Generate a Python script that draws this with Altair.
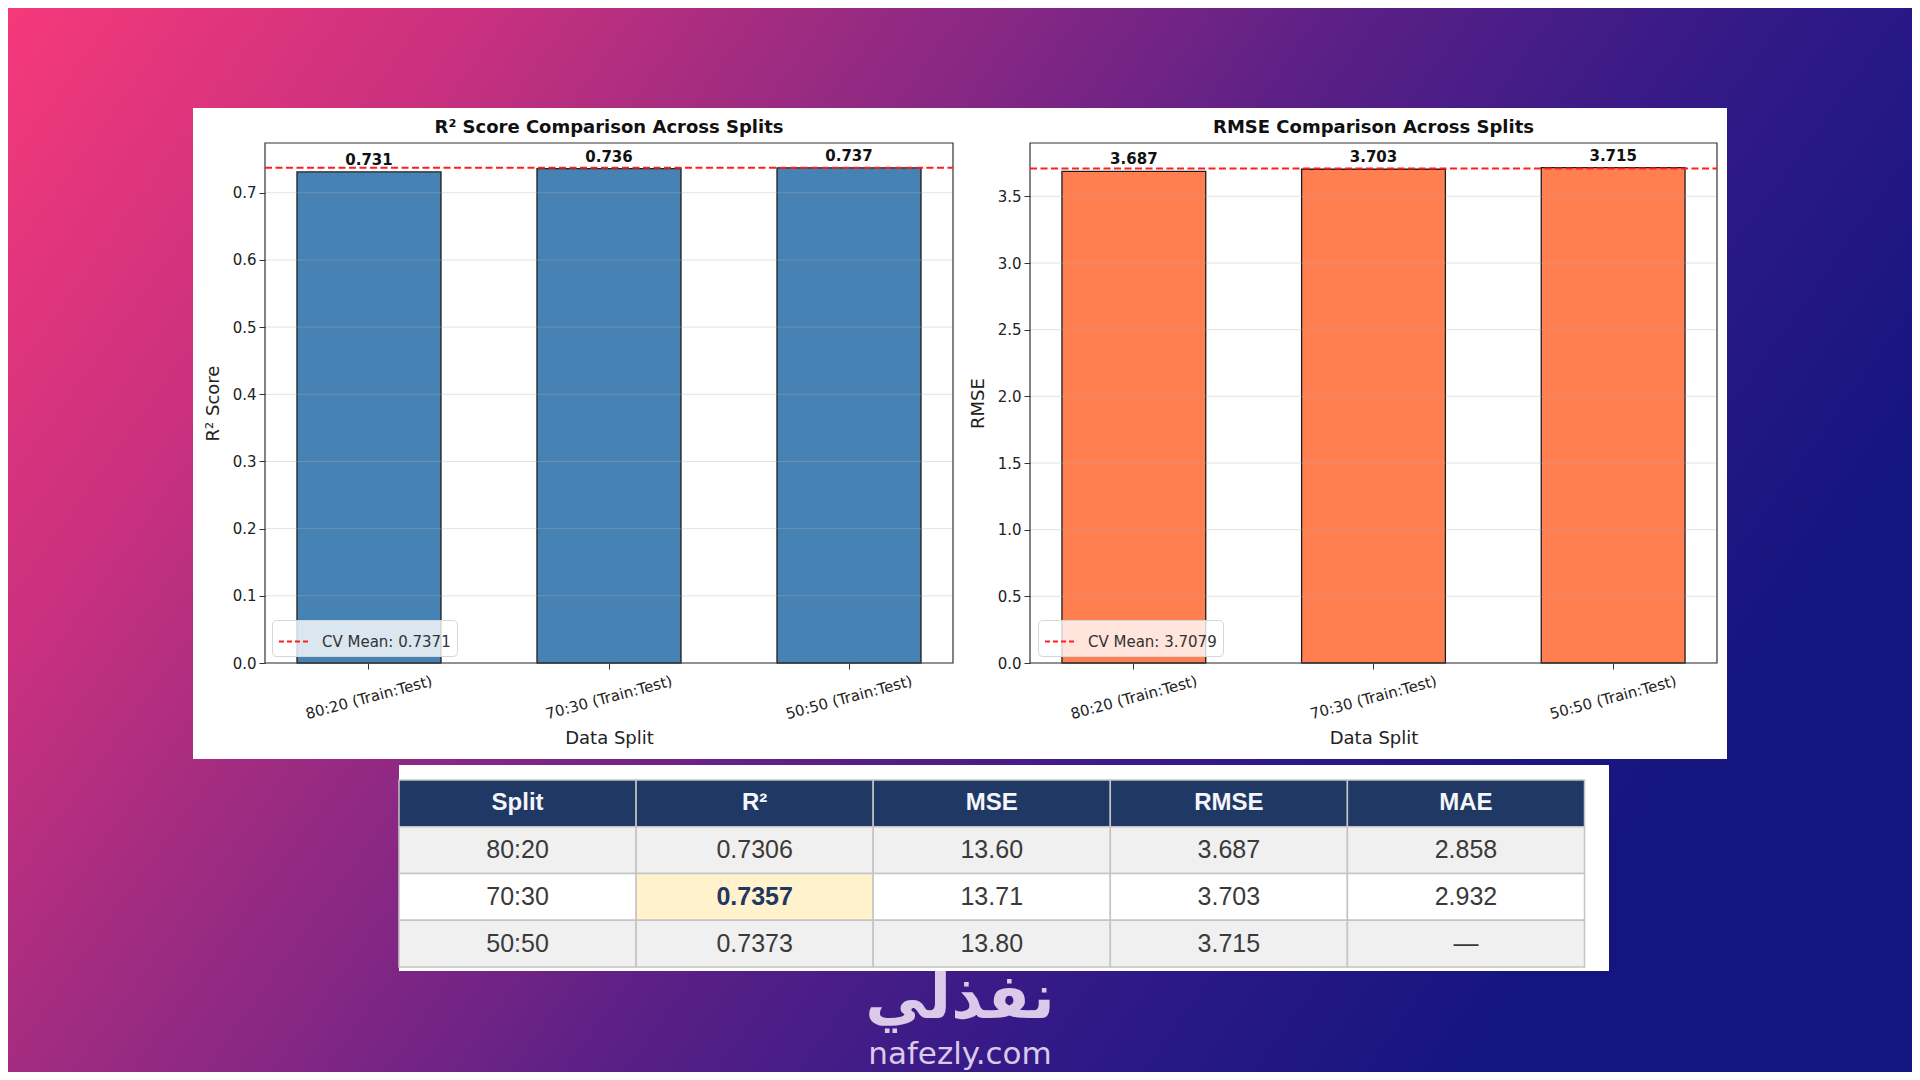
import altair as alt
import pandas as pd

# ---------------- data ----------------
splits = ["80:20 (Train:Test)", "70:30 (Train:Test)", "50:50 (Train:Test)"]
r2_scores = [0.731, 0.736, 0.737]
rmse_scores = [3.687, 3.703, 3.715]
r2_cv_mean = 0.7371
rmse_cv_mean = 3.7079
r2_cv_label = "CV Mean: 0.7371"
rmse_cv_label = "CV Mean: 3.7079"
r2_ticks = [0.0, 0.1, 0.2, 0.3, 0.4, 0.5, 0.6, 0.7]
rmse_ticks = [0.0, 0.5, 1.0, 1.5, 2.0, 2.5, 3.0, 3.5]
r2_axis_max = 0.774
rmse_axis_max = 3.90

r2_title = "R² Score Comparison Across Splits"
rmse_title = "RMSE Comparison Across Splits"
r2_ytitle = "R² Score"
rmse_ytitle = "RMSE"
x_title = "Data Split"

table_columns = ["Split", "R²", "MSE", "RMSE", "MAE"]
table_split = ["80:20", "70:30", "50:50"]
table_r2 = ["0.7306", "0.7357", "0.7373"]
table_mse = ["13.60", "13.71", "13.80"]
table_rmse = ["3.687", "3.703", "3.715"]
table_mae = ["2.858", "2.932", "—"]
highlight_row = "70:30"
highlight_col = "R²"

brand_ar = "نفذلي"
brand_url = "nafezly.com"

# ---------------- layout (page pixels) ----------------
OFF = 8
W, H = 1904, 1064


def px(v):
    return v - OFF


PANEL = (193, 108, 1727, 759)
PLOT_TOP, PLOT_BOTTOM = 143, 663
LEFT_PLOT = (265, 953)
RIGHT_PLOT = (1030, 1717)
TITLE_Y = 128
TABLE_BOX = (399, 765, 1609, 971)
TABLE_X = (399, 1584.5)
TABLE_Y = (780, 967)

one = pd.DataFrame({"a": [0]})
CHART_FONT = "DejaVu Sans"


def box(x0, y0, x1, y1, **kw):
    return alt.Chart(one).mark_rect(**kw).encode(
        x=alt.value(px(x0)), x2=alt.value(px(x1)),
        y=alt.value(px(y0)), y2=alt.value(px(y1)))


def bar_panel(values, cv_mean, cv_label, ticks, ymax, color, ytitle, xr, legend_xy):
    x0, x1 = xr
    xs = alt.Scale(domain=splits, range=[px(x0), px(x1)],
                   paddingInner=0.4, paddingOuter=0.1333)
    ys = alt.Scale(domain=[0, ymax], range=[px(PLOT_BOTTOM), px(PLOT_TOP)],
                   nice=False, zero=True)
    x_axis = alt.Axis(orient="bottom", offset=px(PLOT_BOTTOM) - H, title=x_title,
                      titleFont=CHART_FONT, titleFontSize=18, titleFontWeight="normal",
                      titleColor="#222222", titlePadding=8,
                      labelAngle=-15, labelAlign="center", labelBaseline="middle",
                      labelPadding=28, labelFont=CHART_FONT, labelFontSize=15,
                      labelColor="#222222", labelOverlap=False,
                      tickSize=6, tickColor="#333333", tickWidth=1,
                      domain=False, grid=False, bandPosition=0.5, zindex=5)
    y_axis = alt.Axis(orient="left", offset=-px(x0), title=ytitle, values=ticks,
                      format=".1f", titleFont=CHART_FONT, titleFontSize=18,
                      titleFontWeight="normal", titleColor="#222222", titlePadding=10,
                      labelFont=CHART_FONT, labelFontSize=15, labelColor="#222222",
                      labelPadding=3, labelOverlap=False,
                      tickSize=6, tickColor="#333333", tickWidth=1,
                      domain=False, grid=False, zindex=5)
    bars_df = pd.DataFrame({"split": splits, "value": values})
    bars = alt.Chart(bars_df).mark_bar(fill=color, stroke="#1e1e1e", strokeWidth=1.3).encode(
        x=alt.X("split:N", scale=xs, axis=x_axis, sort=splits),
        y=alt.Y("value:Q", scale=ys, axis=y_axis),
    )
    grid = alt.Chart(pd.DataFrame({"value": ticks})).mark_rule(
        color="#b0b0b0", strokeWidth=1, opacity=0.35).encode(
        y=alt.Y("value:Q"), x=alt.value(px(x0)), x2=alt.value(px(x1)))
    frame = box(x0, PLOT_TOP, x1, PLOT_BOTTOM, fillOpacity=0, stroke="#333333", strokeWidth=1.2)
    cv = alt.Chart(pd.DataFrame({"value": [cv_mean], "label": [cv_label]})).mark_rule(
        strokeDash=[7, 3.5], strokeWidth=2).encode(
        y=alt.Y("value:Q"), x=alt.value(px(x0)), x2=alt.value(px(x1)),
        color=alt.Color("label:N", scale=alt.Scale(domain=[cv_label], range=["#ff1f1f"]),
                        legend=alt.Legend(orient="none", legendX=px(legend_xy[0]),
                                          legendY=px(legend_xy[1]), title=None,
                                          symbolType="stroke", symbolDash=[5, 3],
                                          symbolStrokeWidth=2, symbolSize=841,
                                          labelFont=CHART_FONT, labelFontSize=15,
                                          labelColor="#333333", labelOffset=13,
                                          fillColor="rgba(255,255,255,0.8)",
                                          strokeColor="#d6d6d6", cornerRadius=4,
                                          padding=6, zindex=6)))
    labels = alt.Chart(bars_df).mark_text(font=CHART_FONT, fontWeight="bold", fontSize=15,
                                          baseline="bottom", dy=-4, color="#111111").encode(
        x=alt.X("split:N", sort=splits), y=alt.Y("value:Q"),
        text=alt.Text("value:Q", format=".3f"))
    return alt.layer(bars, grid, frame, cv, labels)


def label_text(text, x, y, **kw):
    return alt.Chart(pd.DataFrame({"t": [text]})).mark_text(**kw).encode(
        text="t:N", x=alt.value(px(x)), y=alt.value(px(y)))


# ---------------- background ----------------
bg = alt.Chart(one).mark_rect(
    fill=alt.Gradient(
        gradient="linear", x1=0, y1=0, x2=1, y2=0.4,
        stops=[alt.GradientStop(color="#f5397a", offset=0),
               alt.GradientStop(color="#c8307f", offset=0.22),
               alt.GradientStop(color="#a22c80", offset=0.35),
               alt.GradientStop(color="#862784", offset=0.46),
               alt.GradientStop(color="#561f86", offset=0.63),
               alt.GradientStop(color="#2e1987", offset=0.82),
               alt.GradientStop(color="#15157f", offset=1)])).encode(
    x=alt.value(0), x2=alt.value(W), y=alt.value(0), y2=alt.value(H))

panel = box(*PANEL, fill="white")

left = bar_panel(r2_scores, r2_cv_mean, r2_cv_label, r2_ticks, r2_axis_max, "#4682b4",
                 r2_ytitle, LEFT_PLOT, (272, 620))
right = bar_panel(rmse_scores, rmse_cv_mean, rmse_cv_label, rmse_ticks, rmse_axis_max, "#ff7f50",
                  rmse_ytitle, RIGHT_PLOT, (1038, 620))

left_title = label_text(r2_title, sum(LEFT_PLOT) / 2, TITLE_Y, font=CHART_FONT, fontSize=18,
                        fontWeight="bold", color="#111111", baseline="middle", align="center")
right_title = label_text(rmse_title, sum(RIGHT_PLOT) / 2, TITLE_Y, font=CHART_FONT, fontSize=18,
                         fontWeight="bold", color="#111111", baseline="middle", align="center")

# ---------------- table ----------------
rows_order = ["header"] + table_split
cells = [{"row": "header", "col": c, "text": c} for c in table_columns]
for i, s in enumerate(table_split):
    for c, vals in zip(table_columns, [table_split, table_r2, table_mse, table_rmse, table_mae]):
        cells.append({"row": s, "col": c, "text": vals[i]})
tdf = pd.DataFrame(cells)

txs = alt.Scale(domain=table_columns, range=[px(TABLE_X[0]), px(TABLE_X[1])],
                paddingInner=0, paddingOuter=0)
tys = alt.Scale(domain=rows_order, range=[px(TABLE_Y[0]), px(TABLE_Y[1])],
                paddingInner=0, paddingOuter=0)

fill_expr = (
    f"datum.row === 'header' ? '#1f3864' : "
    f"(datum.row === '{highlight_row}' ? (datum.col === '{highlight_col}' ? '#fff2cc' : '#ffffff') : '#f0f0f0')"
)
hl_expr = f"datum.row === '{highlight_row}' && datum.col === '{highlight_col}'"

table_box = box(*TABLE_BOX, fill="white")
cell_rects = alt.Chart(tdf).transform_calculate(fill=fill_expr).mark_rect(
    stroke="#c4c4c4", strokeWidth=1.5).encode(
    x=alt.X("col:N", scale=txs, axis=None, sort=table_columns),
    y=alt.Y("row:N", scale=tys, axis=None, sort=rows_order),
    fill=alt.Fill("fill:N", scale=None))
header_text = alt.Chart(tdf).transform_filter("datum.row === 'header'").mark_text(
    font="Liberation Sans", fontSize=24, fontWeight="bold", color="#f4f6fb", baseline="middle").encode(
    x=alt.X("col:N", sort=table_columns), y=alt.Y("row:N", sort=rows_order), text="text:N")
body_text = alt.Chart(tdf).transform_filter(f"datum.row !== 'header' && !({hl_expr})").mark_text(
    font="Liberation Sans", fontSize=25, color="#3a3a3a", baseline="middle").encode(
    x=alt.X("col:N", sort=table_columns), y=alt.Y("row:N", sort=rows_order), text="text:N")
hl_text = alt.Chart(tdf).transform_filter(hl_expr).mark_text(
    font="Liberation Sans", fontSize=25, fontWeight="bold", color="#1f3864", baseline="middle").encode(
    x=alt.X("col:N", sort=table_columns), y=alt.Y("row:N", sort=rows_order), text="text:N")
table = alt.layer(cell_rects, header_text, body_text, hl_text)

# ---------------- logo ----------------
logo_ar = label_text(brand_ar, 960, 999, font="DejaVu Sans", fontSize=62, fontWeight="bold",
                     color="#dac9e8", baseline="middle", align="center")
logo_url = label_text(brand_url, 960, 1055, font="DejaVu Sans", fontSize=31,
                      color="#dac9e8", baseline="middle", align="center")

chart = alt.layer(
    bg, panel, left, right, left_title, right_title, table_box, table, logo_ar, logo_url
).resolve_scale(
    x="independent", y="independent", color="independent"
).resolve_legend(
    color="independent"
).properties(
    width=W, height=H, autosize=alt.AutoSizeParams(type="none"), padding=0,
    background="white"
).configure_view(stroke=None)

chart.save("out.html", embed_options={"renderer": "svg", "actions": False})
